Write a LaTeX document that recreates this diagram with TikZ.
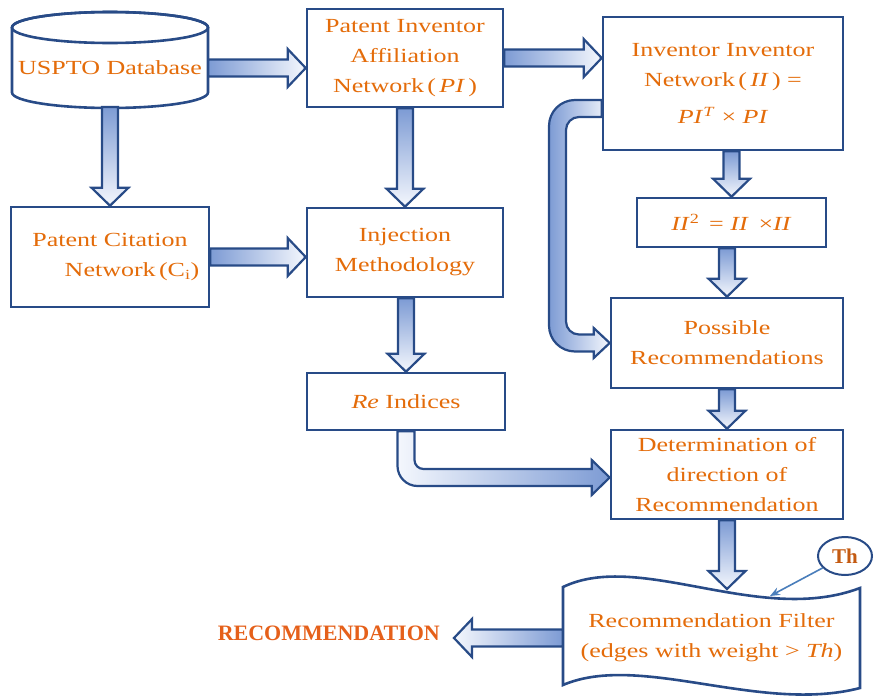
\documentclass[tikz,border=0pt]{standalone}
\usepackage{fontspec}
\setmainfont{Liberation Serif}[FakeStretch=1.3]
\newfontfamily\capsserif{Liberation Serif}
\usetikzlibrary{calc,arrows.meta,shapes.geometric}

\definecolor{bdark}{HTML}{284B87}
\definecolor{adark}{HTML}{7D9BD4}
\definecolor{alight}{HTML}{F4F7FD}
\definecolor{orng}{HTML}{E46C0A}
\definecolor{recred}{HTML}{E5601A}
\definecolor{thcol}{HTML}{C45A11}
\definecolor{tblue}{HTML}{4A7EBB}

\newcommand\diagfont{\fontsize{20}{30}\selectfont}

% block arrows: shaft half width 8.5pt, head half width 19pt, head length 18pt
\newcommand\blkright[2]{%
  \path[blk,left color=adark,right color=alight] let \p1=(#1), \p2=(#2) in
    (\x1,\y1+8.5pt) -- (\x2-18pt,\y1+8.5pt) -- (\x2-18pt,\y1+19pt) -- (\x2,\y1)
    -- (\x2-18pt,\y1-19pt) -- (\x2-18pt,\y1-8.5pt) -- (\x1,\y1-8.5pt) -- cycle;}
\newcommand\blkleft[2]{%
  \path[blk,left color=alight,right color=adark] let \p1=(#1), \p2=(#2) in
    (\x1,\y1+8.5pt) -- (\x2+18pt,\y1+8.5pt) -- (\x2+18pt,\y1+19pt) -- (\x2,\y1)
    -- (\x2+18pt,\y1-19pt) -- (\x2+18pt,\y1-8.5pt) -- (\x1,\y1-8.5pt) -- cycle;}
\newcommand\blkdown[2]{%
  \path[blk,top color=adark,bottom color=alight] let \p1=(#1), \p2=(#2) in
    (\x2-8pt,\y1) -- (\x2-8pt,\y2+18pt) -- (\x2-18.5pt,\y2+18pt) -- (\x2,\y2)
    -- (\x2+18.5pt,\y2+18pt) -- (\x2+8pt,\y2+18pt) -- (\x2+8pt,\y1) -- cycle;}

\tikzset{
  box/.style={draw=bdark, line width=2.6pt, fill=white, align=center,
    text=orng, font=\diagfont, inner sep=0pt},
  blk/.style={draw=bdark, line width=2.2pt, line join=miter},
  thinarr/.style={draw=tblue, line width=1.6pt,
    -{Stealth[length=10pt,width=8pt]}},
}

\begin{document}
\begin{tikzpicture}[x=1pt,y=-1pt]
\useasboundingbox (0,0) rectangle (876,699);

% database cylinder
\path[draw=bdark, line width=2.6pt, fill=white]
  (12,27.5) -- (12,92.5) .. controls (12,101.06) and (55.9,108) .. (110,108)
  .. controls (164.1,108) and (208,101.06) .. (208,92.5) -- (208,27.5)
  .. controls (208,18.94) and (164.1,12) .. (110,12)
  .. controls (55.9,12) and (12,18.94) .. (12,27.5) -- cycle;
\draw[bdark, line width=2.6pt] (110,27.5) ellipse [x radius=98pt, y radius=15.5pt];
\node[text=orng, font=\diagfont, inner sep=0pt, minimum width=196pt] (db) at (110,68) {USPTO Database};
\coordinate (db-s) at (110,107);

% process boxes
\node[box, minimum width=196pt, minimum height=98pt] (pia) at (405,58)
  {Patent Inventor\\Affiliation\\Network\,(\,\textit{PI}\,)};
\node[box, minimum width=198pt, minimum height=100pt] (cit) at (110,257)
  {Patent Citation\\\hspace*{44pt}Network\,(C\textsubscript{i})};
\node[box, minimum width=196pt, minimum height=89pt] (inj) at (405,252.5)
  {Injection\\Methodology};
\node[box, minimum width=198pt, minimum height=57pt] (re) at (406,401.5)
  {\textit{Re} Indices};
\node[box, minimum width=240pt, minimum height=133pt] (ii) at (723,83.5)
  {Inventor Inventor\\Network\,(\,\textit{II}\,) =\\[7pt]\textit{PI}\textsuperscript{\textit{T}} × \textit{PI}};
\node[box, minimum width=189pt, minimum height=49pt] (ii2) at (731.5,222.5)
  {\textit{II}\textsuperscript{2}\, = \textit{II}\, ×\textit{II}};
\node[box, minimum width=232pt, minimum height=90pt] (poss) at (727,343)
  {Possible\\Recommendations};
\node[box, minimum width=232pt, minimum height=89pt] (det) at (727,474.5)
  {Determination of\\direction of\\Recommendation};

% filter (wavy document shape)
\path[draw=bdark, line width=2.6pt, fill=white]
  (563,587) .. controls (640,550) and (760,626) .. (860,588) -- (860,688)
  .. controls (760,714) and (640,652) .. (563,685) -- cycle;
\node[text=orng, font=\diagfont, align=center, inner sep=0pt, minimum width=297pt] (filt) at (711.5,638)
  {Recommendation Filter\\(edges with weight > \textit{Th})};
\coordinate (filt-top) at (727,589);

% threshold
\node[ellipse, draw=bdark, line width=2pt, fill=white, minimum width=54pt, minimum height=38pt,
  inner sep=0pt, text=thcol, font=\capsserif\fontsize{21}{21}\selectfont\bfseries] (th) at (845,556) {Th};
\coordinate (th-tip) at (770,596);
\draw[thinarr] (th) -- (th-tip);

% output
\node[text=recred, font=\capsserif\fontsize{22}{22}\selectfont\bfseries, inner ysep=0pt, inner xsep=14pt,
  anchor=east] (rec) at (454,633) {RECOMMENDATION};

% straight block arrows
\blkright{db.east}{pia.west}
\blkright{pia.east}{ii.west}
\blkright{cit.east}{inj.west}
\blkdown{db-s}{cit.north}
\blkdown{pia.south}{inj.north}
\blkdown{inj.south}{re.north}
\blkdown{ii.south}{ii2.north}
\blkdown{ii2.south}{poss.north}
\blkdown{poss.south}{det.north}
\blkdown{det.south}{filt-top}
\blkleft{filt.west}{rec.east}

% elbow arrow: Re Indices -> Determination
\coordinate (det-in) at ($(det.west)+(0,3)$);
\path[blk,left color=alight,right color=adark] let \p1=(re.south), \p2=(det-in) in
  (\x1-8.5pt,\y1) -- (\x1-8.5pt,\y2-8.5pt+20pt)
  .. controls (\x1-8.5pt,\y2-8.5pt+9pt) and (\x1-8.5pt+9pt,\y2-8.5pt) .. (\x1-8.5pt+20pt,\y2-8.5pt)
  -- (\x2-18pt,\y2-8.5pt) -- (\x2-18pt,\y2-17.5pt) -- (\x2,\y2)
  -- (\x2-18pt,\y2+17.5pt) -- (\x2-18pt,\y2+8.5pt)
  -- (\x1+8.5pt+9pt,\y2+8.5pt)
  .. controls (\x1+8.5pt+4pt,\y2+8.5pt) and (\x1+8.5pt,\y2+8.5pt+4pt) .. (\x1+8.5pt,\y2+8.5pt+9pt)
  -- (\x1+8.5pt,\y1) -- cycle;

% loop arrow: Inventor Inventor Network -> Possible Recommendations
\coordinate (ii-out) at ($(ii.west)+(0,25)$);
\coordinate (loop) at (557.5,200);
\path[blk,left color=adark,right color=alight] let \p1=(ii-out), \p2=(poss.west), \p3=(loop) in
  (\x1,\y1+8.5pt) -- (\x3-8.5pt+26pt,\y1+8.5pt)
  .. controls (\x3-8.5pt+11.6pt,\y1+8.5pt) and (\x3-8.5pt,\y1+8.5pt-11.6pt) .. (\x3-8.5pt,\y1+8.5pt-26pt)
  -- (\x3-8.5pt,\y2-8.5pt+26pt)
  .. controls (\x3-8.5pt,\y2-8.5pt+11.6pt) and (\x3-8.5pt+11.6pt,\y2-8.5pt) .. (\x3-8.5pt+26pt,\y2-8.5pt)
  -- (\x2-16pt,\y2-8.5pt) -- (\x2-16pt,\y2-15pt) -- (\x2,\y2)
  -- (\x2-16pt,\y2+15pt) -- (\x2-16pt,\y2+8.5pt)
  -- (\x3+8.5pt+13pt,\y2+8.5pt)
  .. controls (\x3+8.5pt+5.8pt,\y2+8.5pt) and (\x3+8.5pt,\y2+8.5pt+5.8pt) .. (\x3+8.5pt,\y2+8.5pt+13pt)
  -- (\x3+8.5pt,\y1-8.5pt-13pt)
  .. controls (\x3+8.5pt,\y1-8.5pt-5.8pt) and (\x3+8.5pt+5.8pt,\y1-8.5pt) .. (\x3+8.5pt+13pt,\y1-8.5pt)
  -- (\x1,\y1-8.5pt) -- cycle;

\end{tikzpicture}
\end{document}
